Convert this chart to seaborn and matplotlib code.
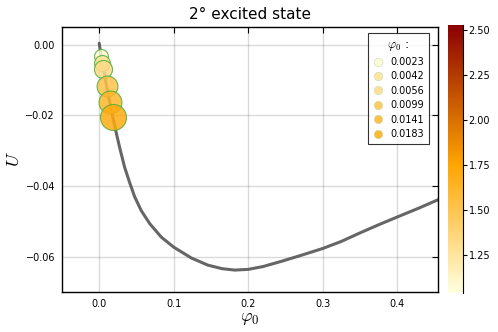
import matplotlib
matplotlib.use("Agg")
import matplotlib.pyplot as plt
import seaborn as sns
import pandas as pd
from matplotlib.colors import LinearSegmentedColormap
from matplotlib.lines import Line2D

# energy curve U(phi0)
phi_curve = [0.0, 0.0023, 0.0042, 0.0056, 0.0099, 0.0141, 0.0183, 0.0215, 0.0273,
             0.034, 0.0408, 0.0475, 0.0565, 0.068, 0.0835, 0.1, 0.1239, 0.146,
             0.165, 0.182, 0.2, 0.22, 0.245, 0.27, 0.3, 0.325, 0.35, 0.375, 0.4,
             0.43, 0.456]
u_curve = [0.0004, -0.0031, -0.0052, -0.0068, -0.0118, -0.0162, -0.0205, -0.0237,
           -0.0290, -0.0346, -0.0390, -0.0430, -0.0470, -0.0507, -0.0545, -0.0573,
           -0.0604, -0.0624, -0.0634, -0.0638, -0.0636, -0.0628, -0.0613, -0.0597,
           -0.0577, -0.0557, -0.0533, -0.0510, -0.0488, -0.0462, -0.0438]

# marked states
phi_pts = [0.0023, 0.0042, 0.0056, 0.0099, 0.0141, 0.0183]
u_pts = [-0.0031, -0.0052, -0.0068, -0.0118, -0.0162, -0.0205]
z_pts = [1.08, 1.28, 1.32, 1.52, 1.62, 1.70]
size_pts = [100, 132, 169, 225, 272, 350]
labels = ["0.0023", "0.0042", "0.0056", "0.0099", "0.0141", "0.0183"]

zmin, zmax = 1.04, 2.53
cbar_ticks = [1.25, 1.5, 1.75, 2.0, 2.25, 2.5]

sns.set_style("white")
plt.rcParams["font.family"] = ["DejaVu Sans"]
plt.rcParams["mathtext.fontset"] = "cm"
for k in ["text.color", "axes.labelcolor", "xtick.color", "ytick.color"]:
    plt.rcParams[k] = "black"

cmap = LinearSegmentedColormap.from_list(
    "heat", [(0.0, "#ffffe0"), (0.477, "#ffa500"), (1.0, "#8b0000")])
norm = matplotlib.colors.Normalize(zmin, zmax)

fig = plt.figure(figsize=(4.98, 3.32), dpi=100)
ax = fig.add_axes([0.1245, 0.1205, 0.755, 0.7982])

df = pd.DataFrame({"phi": phi_curve, "U": u_curve})
sns.lineplot(data=df, x="phi", y="U", ax=ax, color="#555555", alpha=0.9,
             linewidth=2.2, sort=False, zorder=2,
             solid_joinstyle="round", solid_capstyle="round")

handles = []
for p, u, z, s, lab in zip(phi_pts, u_pts, z_pts, size_pts, labels):
    c = cmap(norm(z))
    sns.scatterplot(x=[p], y=[u], ax=ax, s=s, color=c, alpha=0.85,
                    edgecolor="#4caf3a", linewidth=0.8, zorder=3)
    handles.append(Line2D([], [], marker="o", linestyle="", markersize=6,
                          markerfacecolor=c, markeredgecolor="#b0dca0",
                          markeredgewidth=0.4, alpha=0.85, label=lab))

ax.set_xlim(-0.05, 0.455)
ax.set_ylim(-0.07, 0.005)
ax.set_xticks([0.0, 0.1, 0.2, 0.3, 0.4])
ax.set_yticks([0.0, -0.02, -0.04, -0.06])
ax.set_xticklabels(["0.0", "0.1", "0.2", "0.3", "0.4"])
ax.set_yticklabels(["0.00", "\u22120.02", "\u22120.04", "\u22120.06"])
ax.grid(True, color="#000000", alpha=0.15, linewidth=1)
ax.tick_params(direction="in", top=True, right=True, labelsize=7, length=4,
               width=0.8, color="black", pad=5)
for sp in ax.spines.values():
    sp.set_color("black")
    sp.set_linewidth(1)
ax.set_xlabel(r"$\varphi_0$", fontsize=13, labelpad=0)
ax.set_ylabel(r"$U$", fontsize=13, labelpad=2)
ax.set_title("2° excited state", fontsize=11, pad=6)

leg = ax.legend(handles=handles, title=r"$\varphi_0$ :", loc="upper right",
                bbox_to_anchor=(0.975, 0.978), borderaxespad=0, fontsize=7,
                title_fontsize=9, frameon=True, fancybox=False,
                handletextpad=0.6, labelspacing=0.45, borderpad=0.5,
                handlelength=1.2)
leg.get_frame().set_edgecolor("black")
leg.get_frame().set_linewidth(0.8)

cax = fig.add_axes([0.8996, 0.1175, 0.0301, 0.807])
cb = fig.colorbar(matplotlib.cm.ScalarMappable(norm=norm, cmap=cmap), cax=cax)
cb.set_ticks(cbar_ticks)
cb.set_ticklabels(["1.25", "1.50", "1.75", "2.00", "2.25", "2.50"])
cb.outline.set_visible(False)
cax.spines["right"].set_visible(True)
cax.spines["right"].set_color("black")
cax.tick_params(labelsize=7, length=3, width=0.8, direction="out", pad=1)

fig.savefig("out.png", dpi=100)
